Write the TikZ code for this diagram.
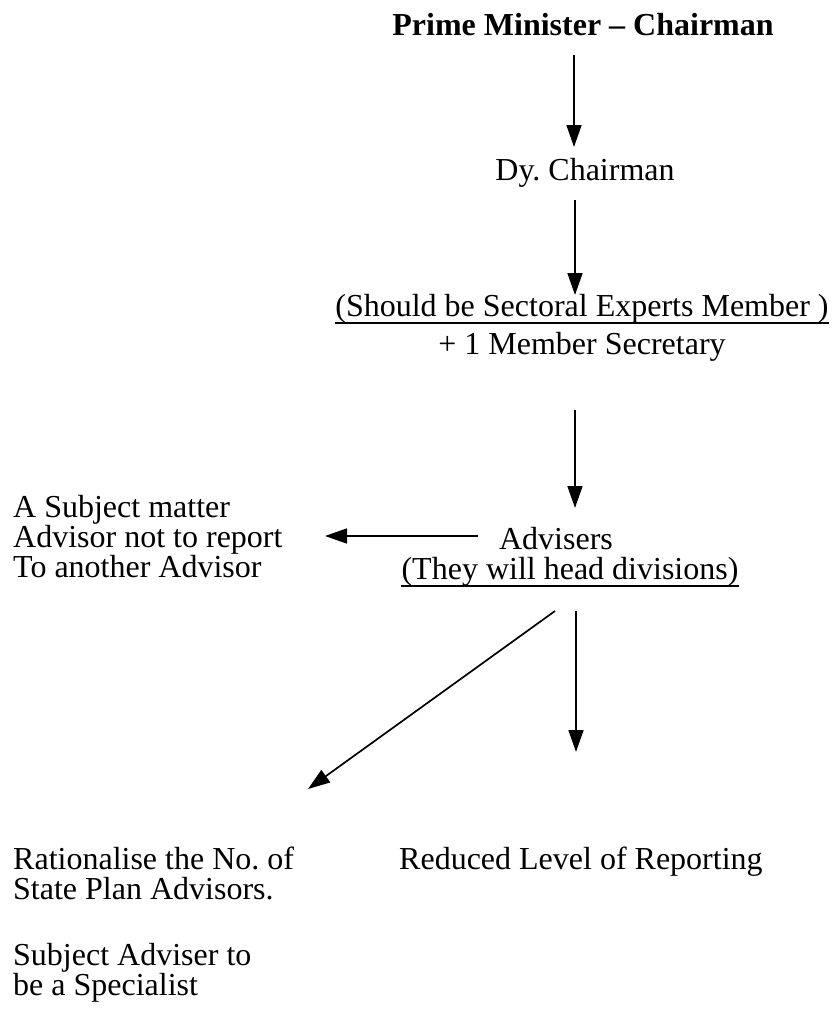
\documentclass[tikz,border=0pt]{standalone}
\usepackage{fontspec}
\setmainfont{Liberation Serif}
\usetikzlibrary{arrows.meta}
\begin{document}
\begin{tikzpicture}[x=1pt,y=-1pt,
  txt/.style={anchor=base, inner sep=0pt, font=\fontsize{32}{30}\selectfont},
  lft/.style={anchor=base west, inner sep=0pt, font=\fontsize{32}{30}\selectfont},
  uline/.style={line width=1.3pt},
  conn/.style={line width=1.7pt, -{Triangle[length=22pt,width=15pt]}}]
\useasboundingbox (0,0) rectangle (836,1009);
% nodes
\node[txt, font=\fontsize{32}{30}\selectfont\bfseries] (pm) at (583,35) {Prime Minister -- Chairman};
\node[txt] (dy) at (585,180) {Dy.\ Chairman};
\node[txt] (sec) at (582,316) {(Should be Sectoral Experts Member )};
\node[txt] (ms) at (582,354) {+ 1 Member Secretary};
\node[txt] (adv) at (556,549) {Advisers};
\node[txt] (div) at (570,579) {(They will head divisions)};
\node[lft] (sa1) at (13,517) {A Subject matter};
\node[lft] (sa2) at (13,547) {Advisor not to report};
\node[lft] (sa3) at (13,577) {To another Advisor};
\node[lft] (ra1) at (13,869) {Rationalise the No.\ of};
\node[lft] (ra2) at (13,899) {State Plan Advisors.};
\node[lft] (red) at (399,869) {Reduced Level of Reporting};
\node[lft] (sp1) at (13,965) {Subject Adviser to};
\node[lft] (sp2) at (13,995) {be a Specialist};
% underlines
\draw[uline] (sec.south west) -- (sec.south east);
\draw[uline] (div.south west) -- (div.south east);
% connector end points
\coordinate (a1s) at (574,55);  \coordinate (a1e) at (574,147);
\coordinate (a2s) at (575,200); \coordinate (a2e) at (575,295);
\coordinate (a3s) at (575,410); \coordinate (a3e) at (575,508);
\coordinate (als) at (478,536); \coordinate (ale) at (325,536);
\coordinate (ads) at (555,611); \coordinate (ade) at (308,789);
\coordinate (avs) at (576,611); \coordinate (ave) at (576,752);
% connectors
\draw[conn] (a1s) -- (a1e);
\draw[conn] (a2s) -- (a2e);
\draw[conn] (a3s) -- (a3e);
\draw[conn] (als) -- (ale);
\draw[conn] (ads) -- (ade);
\draw[conn] (avs) -- (ave);
\end{tikzpicture}
\end{document}
